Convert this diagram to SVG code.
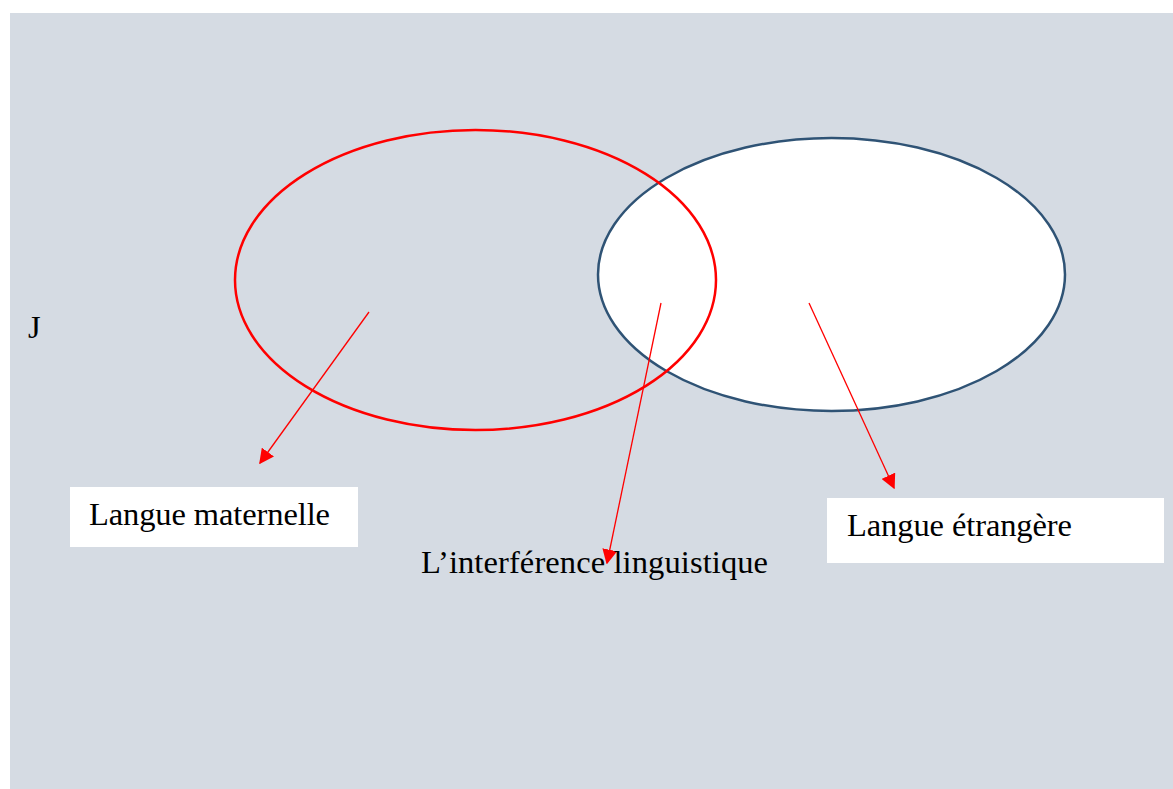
<svg xmlns="http://www.w3.org/2000/svg" width="1173" height="789" viewBox="0 0 1173 789">
<style>
.lbl{font-family:"Liberation Serif","Times New Roman",serif;font-size:32.5px;fill:#000}
.box{fill:#fff}
.arr{stroke:#ff0000;stroke-width:1.3;fill:none}
</style>
<defs>
<marker id="ah" viewBox="0 0 10 10" refX="9" refY="5" markerWidth="15" markerHeight="15" markerUnits="userSpaceOnUse" orient="auto">
<path d="M0,0 L10,5 L0,10 z" fill="#ff0000"/>
</marker>
</defs>
<rect x="0" y="0" width="1173" height="789" fill="#fff"/>
<rect x="10" y="13" width="1163" height="776" fill="#d5dbe3"/>
<text class="lbl" x="28" y="338" font-size="26">J</text>
<g id="langue-etrangere-ellipse">
<ellipse cx="831.5" cy="274.5" rx="233.5" ry="136.5" fill="#fff" stroke="#2f5375" stroke-width="2.5"/>
</g>
<g id="langue-maternelle-ellipse">
<ellipse cx="475.5" cy="280" rx="240.5" ry="150" fill="none" stroke="#ff0000" stroke-width="2.5"/>
</g>
<g id="connectors">
<line class="arr" x1="369" y1="312" x2="260" y2="463" marker-end="url(#ah)"/>
<line class="arr" x1="661" y1="303" x2="607" y2="563" marker-end="url(#ah)"/>
<line class="arr" x1="809" y1="303" x2="894" y2="488" marker-end="url(#ah)"/>
</g>
<g id="langue-maternelle">
<rect class="box" x="70" y="487" width="288" height="60"/>
<text class="lbl" x="89" y="525" textLength="241" lengthAdjust="spacing">Langue maternelle</text>
</g>
<g id="langue-etrangere">
<rect class="box" x="827" y="498" width="337" height="65"/>
<text class="lbl" x="847" y="536" textLength="225" lengthAdjust="spacing">Langue étrangère</text>
</g>
<g id="interference">
<text class="lbl" x="421" y="573" textLength="347" lengthAdjust="spacing">L’interférence linguistique</text>
</g>
</svg>
